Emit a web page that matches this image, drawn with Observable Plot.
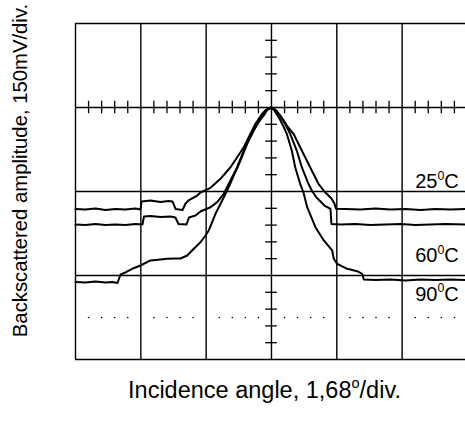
<!DOCTYPE html>
<html><head><meta charset="utf-8">
<script src="https://cdn.jsdelivr.net/npm/d3@7"></script>
<script src="https://cdn.jsdelivr.net/npm/@observablehq/plot@0.6"></script>
<style>
html,body{margin:0;padding:0;background:#fff;}
#chart svg{display:block;}
</style></head><body><div id="chart"></div>
<script>
// Angle in divisions from centre (1 div = 1.68 deg), amplitude in divisions from bottom (1 div = 150 mV)
const t25Angle = [-3.0,-2.847,-2.694,-2.541,-2.388,-2.235,-2.082,-2.005,-1.990,-1.852,-1.699,-1.577,-1.515,-1.469,-1.362,
  -1.316,-1.270,-1.137,-1.087,-0.934,-0.781,-0.628,-0.525,-0.424,-0.321,-0.245,-0.142,-0.077,0,
  0.077,0.168,0.245,0.337,0.464,0.592,0.719,0.811,0.918,0.964,0.987,
  1.133,1.362,1.592,1.822,2.051,2.281,2.510,2.740,2.970];
const t25Amp = [1.792,1.786,1.798,1.780,1.792,1.786,1.798,1.786,1.881,1.893,1.875,1.887,1.881,1.792,1.780,
  1.857,1.893,1.952,1.988,2.044,2.151,2.289,2.408,2.527,2.687,2.806,2.925,2.976,3.0,
  2.964,2.869,2.774,2.687,2.488,2.289,2.092,2.000,1.917,1.857,1.794,
  1.792,1.786,1.798,1.786,1.792,1.780,1.792,1.786,1.792];

const t60Angle = [-3.0,-2.847,-2.694,-2.541,-2.388,-2.235,-2.082,-1.975,
  -1.952,-1.852,-1.699,-1.546,-1.469,-1.424,-1.301,
  -1.263,-1.163,-1.087,-0.934,-0.831,-0.730,-0.628,-0.525,-0.424,-0.321,-0.219,-0.118,-0.061,0,
  0.061,0.138,0.214,0.286,0.387,0.464,0.566,0.617,0.689,0.811,0.903,0.918,
  1.056,1.286,1.515,1.745,1.975,2.204,2.434,2.663,2.970];
const t60Amp = [1.607,1.601,1.613,1.601,1.607,1.601,1.613,1.607,
  1.702,1.708,1.696,1.702,1.690,1.613,1.607,
  1.690,1.714,1.762,1.813,1.873,1.973,2.131,2.289,2.488,2.667,2.806,2.905,2.976,3.0,
  2.970,2.893,2.798,2.687,2.488,2.289,2.092,2.012,1.929,1.833,1.792,1.613,
  1.607,1.613,1.601,1.607,1.613,1.601,1.607,1.613,1.607];

const t90Angle = [-3.0,-2.847,-2.694,-2.541,-2.434,-2.357,
  -2.311,-2.235,-2.132,-2.005,-1.852,-1.699,-1.597,-1.469,-1.393,-1.291,-1.189,-1.087,-1.010,-0.960,-0.857,-0.755,-0.678,-0.577,-0.475,-0.372,-0.271,-0.168,-0.092,0,
  0.046,0.122,0.184,0.234,0.311,0.363,0.439,0.490,0.546,0.673,0.801,0.929,0.954,1.006,1.159,1.312,1.388,1.413,
  1.592,1.822,2.051,2.281,2.510,2.740,2.970];
const t90Amp = [0.923,0.917,0.929,0.917,0.923,0.911,
  1.012,1.036,1.080,1.119,1.179,1.190,1.199,1.202,1.202,1.238,1.318,1.396,1.476,1.536,1.735,1.893,2.012,2.190,2.369,2.568,2.726,2.865,2.964,3.0,
  2.964,2.869,2.774,2.687,2.488,2.289,2.092,1.988,1.813,1.575,1.417,1.298,1.199,1.139,1.080,1.051,1.020,0.952,
  0.946,0.952,0.940,0.952,0.946,0.952,0.946];

const tempLabels = ["25{0}C", "60{0}C", "90{0}C"];
const tempLabelAngle = [2.2, 2.2, 2.2];
const tempLabelAmp = [2.036, 1.155, 0.702];
const refLevel = 0.5;            // dotted reference line
const xMajor = [-3, -2, -1, 0, 1, 2, 3];
const yMajor = [0, 1, 2, 3, 4];
const centerX = 0, centerY = 3;
const xLabel = "Incidence angle, 1,68{o}/div.";
const yLabel = "Backscattered amplitude, 150mV/div.";

function series(name, xs, ys) { return xs.map((x, i) => ({trace: name, x, y: ys[i]})); }
const traces = [...series("25", t25Angle, t25Amp), ...series("60", t60Angle, t60Amp), ...series("90", t90Angle, t90Amp)];
const tempData = tempLabels.map((t, i) => ({t, x: tempLabelAngle[i], y: tempLabelAmp[i]}));

const xMinor = d3.range(-15, 16).map(i => i / 5).filter(v => !Number.isInteger(v));
const yMinor = d3.range(0, 21).map(i => i / 5).filter(v => !Number.isInteger(v));
const xMax = 2.97;

const plot = Plot.plot({
  width: 465, height: 424,
  marginLeft: 75, marginRight: 0, marginTop: 23, marginBottom: 65,
  x: {domain: [-3, xMax], axis: null},
  y: {domain: [0, 4], axis: null},
  style: {fontFamily: "'Liberation Sans', Arial, sans-serif", background: "white", color: "black"},
  marks: [
    Plot.ruleX(xMajor.filter(v => v < xMax), {x: d => d, y1: 0, y2: 4, stroke: "black", strokeWidth: 1.4}),
    Plot.ruleY(yMajor, {y: d => d, x1: -3, x2: xMax, stroke: "black", strokeWidth: 1.4}),
    Plot.ruleX(xMinor, {x: d => d, y1: centerY - 0.075, y2: centerY + 0.075, stroke: "black", strokeWidth: 1.3}),
    Plot.ruleY(yMinor, {y: d => d, x1: centerX - 0.09, x2: centerX + 0.09, stroke: "black", strokeWidth: 1.3}),
    Plot.dot(xMinor, {x: d => d, y: refLevel, r: 0.8, fill: "black", stroke: null}),
    Plot.line(traces, {x: "x", y: "y", z: "trace", stroke: "black", strokeWidth: 2}),
    Plot.text(tempData, {x: "x", y: "y", text: "t", textAnchor: "start", lineAnchor: "bottom", fontSize: 20, fill: "black"}),
    Plot.text([xLabel], {frameAnchor: "bottom", textAnchor: "middle", dx: -6, dy: 38, lineAnchor: "bottom", fontSize: 23.5, fill: "black"}),
    Plot.text([yLabel], {frameAnchor: "left", textAnchor: "middle", lineAnchor: "middle", dx: -55, dy: -21, rotate: -90, fontSize: 20.3, fill: "black"})
  ]
});
document.getElementById("chart").appendChild(plot);

// turn {x} markers into superscripts
d3.select(plot).selectAll("text").each(function() {
  const t = this.textContent;
  const m = t.match(/^(.*)\{(.+)\}(.*)$/);
  if (!m) return;
  const fs = parseFloat(getComputedStyle(this).fontSize) || 18;
  const shift = fs * 0.42;
  const el = d3.select(this);
  el.text(null);
  el.append("tspan").text(m[1]);
  el.append("tspan").attr("font-size", (fs * 0.62) + "px").attr("dy", -shift).text(m[2]);
  el.append("tspan").attr("dy", shift).text(m[3]);
});
</script></body></html>
